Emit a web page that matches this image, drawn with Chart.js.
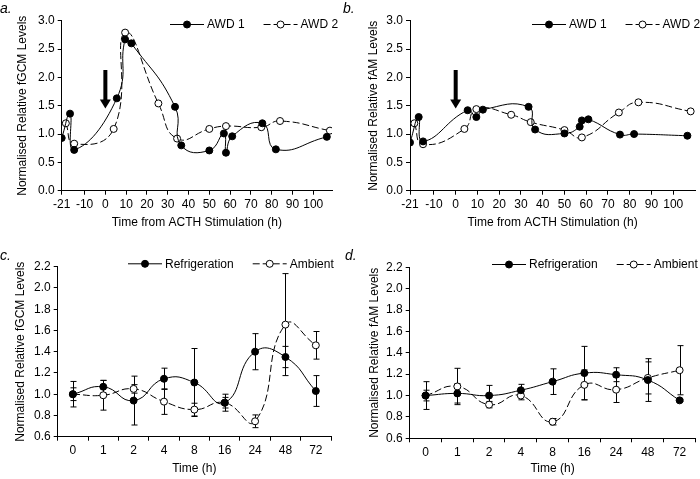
<!DOCTYPE html>
<html>
<head>
<meta charset="utf-8">
<script src="https://cdn.jsdelivr.net/npm/chart.js@4.4.1/dist/chart.umd.min.js"></script>
<style>
  html, body { margin: 0; padding: 0; background: #fff; }
  #wrap { position: relative; width: 700px; height: 479px; overflow: hidden; font-family: "Liberation Sans", Arial, sans-serif; }
  .panel { position: absolute; }
  .tag { position: absolute; font-style: italic; font-size: 14px; line-height: 14px; color: #000; }
</style>
</head>
<body>
<div id="wrap">
  <div class="panel" style="left:0;top:0"><canvas id="chartA" width="350" height="240"></canvas></div>
  <div class="panel" style="left:350px;top:0"><canvas id="chartB" width="350" height="240"></canvas></div>
  <div class="panel" style="left:0;top:240px"><canvas id="chartC" width="350" height="239"></canvas></div>
  <div class="panel" style="left:350px;top:240px"><canvas id="chartD" width="350" height="239"></canvas></div>
  <div class="tag" style="left:0;top:1px">a.</div>
  <div class="tag" style="left:343px;top:1px">b.</div>
  <div class="tag" style="left:0;top:248px">c.</div>
  <div class="tag" style="left:345px;top:248px">d.</div>
</div>
<script>
// panels a & b: time from ACTH stimulation (h)
const awd1Times = [-21, -17, -15, 5.5, 9.5, 12.5, 33.5, 36.5, 50, 57, 58, 61, 75.5, 82, 106.5];
const awd2Times = [-19, -15, 4, 9.5, 25.5, 34.5, 50, 58, 75, 84, 108];
const gcmAwd1 = [0.93, 1.36, 0.72, 1.63, 2.67, 2.60, 1.48, 0.80, 0.71, 1.01, 0.67, 0.96, 1.19, 0.73, 0.95];
const gcmAwd2 = [1.19, 0.83, 1.09, 2.79, 1.54, 0.92, 1.09, 1.14, 1.12, 1.23, 1.06];
const famAwd1 = [0.85, 1.30, 0.87, 1.42, 1.30, 1.43, 1.48, 1.08, 1.01, 1.13, 1.24, 1.26, 0.99, 1.00, 0.97];
const famAwd2 = [1.19, 0.82, 1.09, 1.44, 1.34, 1.21, 1.07, 0.94, 1.38, 1.56, 1.40];
const acthTicks = [-21, -10, 0, 10, 20, 30, 40, 50, 60, 70, 80, 90, 100];

// panels c & d: storage time (h)
const storageHours = ['0', '1', '2', '4', '8', '16', '24', '48', '72'];
const gcmRefrig = [1.00, 1.07, 0.94, 1.145, 1.11, 0.92, 1.40, 1.35, 1.03];
const gcmRefrigErr = [0.06, 0.06, 0.23, 0.10, 0.32, 0.08, 0.17, 0.10, 0.145];
const gcmAmbient = [1.00, 0.99, 1.05, 0.93, 0.855, 0.92, 0.745, 1.655, 1.46];
const gcmAmbientErr = [0.12, 0.14, 0.04, 0.12, 0.06, 0.05, 0.06, 0.48, 0.13];
const famRefrig = [1.00, 1.02, 1.00, 1.05, 1.13, 1.21, 1.195, 1.145, 0.955];
const famRefrigErr = [0.05, 0.09, 0.095, 0.055, 0.12, 0.25, 0.065, 0.20, 0.01];
const famAmbient = [1.00, 1.085, 0.915, 1.00, 0.755, 1.10, 1.055, 1.165, 1.237];
const famAmbientErr = [0.13, 0.17, 0.03, 0.04, 0.03, 0.14, 0.12, 0.15, 0.23];

const FONT = 'Liberation Sans, Arial, sans-serif';
const DASH = [7, 3];

// error bars, stimulation arrow and the inline legend
const extras = {
  id: 'extras',
  beforeDatasetsDraw(chart) {
    const ctx = chart.ctx, ys = chart.scales.y;
    chart.data.datasets.forEach((ds, i) => {
      if (!ds.errors) return;
      ctx.save();
      ctx.strokeStyle = '#000';
      ctx.lineWidth = 1;
      chart.getDatasetMeta(i).data.forEach((pt, j) => {
        const v = ds.data[j], e = ds.errors[j];
        const top = ys.getPixelForValue(v + e), bot = ys.getPixelForValue(v - e);
        const x = Math.round(pt.x) + 0.5;
        ctx.beginPath();
        ctx.moveTo(x, top); ctx.lineTo(x, bot);
        ctx.moveTo(x - 3, top); ctx.lineTo(x + 3, top);
        ctx.moveTo(x - 3, bot); ctx.lineTo(x + 3, bot);
        ctx.stroke();
      });
      ctx.restore();
    });
  },
  afterDatasetsDraw(chart, args, opts) {
    const a = opts.arrow;
    if (!a) return;
    const ctx = chart.ctx;
    const x = chart.scales.x.getPixelForValue(a.x);
    const y0 = chart.scales.y.getPixelForValue(a.from);
    const y1 = chart.scales.y.getPixelForValue(a.to);
    ctx.save();
    ctx.fillStyle = '#000';
    ctx.fillRect(x - 2, y0, 4, y1 - y0 - 8);
    ctx.beginPath();
    ctx.moveTo(x - 5.5, y1 - 9);
    ctx.lineTo(x + 5.5, y1 - 9);
    ctx.lineTo(x, y1);
    ctx.closePath();
    ctx.fill();
    ctx.restore();
  },
  afterDraw(chart, args, opts) {
    const lg = opts.legend;
    if (!lg) return;
    const ctx = chart.ctx;
    let x = lg.x;
    ctx.save();
    ctx.font = '12px ' + FONT;
    ctx.textBaseline = 'middle';
    chart.data.datasets.forEach((ds) => {
      ctx.strokeStyle = '#000';
      ctx.lineWidth = 1;
      ctx.setLineDash(ds.borderDash || []);
      ctx.beginPath();
      ctx.moveTo(x, lg.y + 0.5);
      ctx.lineTo(x + 34, lg.y + 0.5);
      ctx.stroke();
      ctx.setLineDash([]);
      ctx.beginPath();
      ctx.arc(x + 17, lg.y + 0.5, 3.5, 0, Math.PI * 2);
      ctx.fillStyle = ds.pointBackgroundColor;
      ctx.fill();
      ctx.stroke();
      ctx.fillStyle = '#000';
      ctx.fillText(ds.label, x + 37, lg.y + 1);
      x += 37 + ctx.measureText(ds.label).width + 19;
    });
    ctx.restore();
  }
};

function series(label, values, filled, times, errors) {
  return {
    label: label,
    data: times ? values.map((v, i) => ({ x: times[i], y: v })) : values,
    errors: errors,
    borderColor: '#000',
    borderWidth: 1,
    borderDash: filled ? [] : DASH,
    pointRadius: 3.5,
    pointHoverRadius: 3.5,
    pointBackgroundColor: filled ? '#000' : '#fff',
    pointBorderColor: '#000',
    pointBorderWidth: 1,
    tension: 0.5,
    fill: false
  };
}

function axisBase(title, size) {
  return {
    grid: { display: true, drawOnChartArea: false, drawTicks: true, tickLength: 4, color: '#000' },
    border: { display: true, color: '#000', width: 1 },
    ticks: { color: '#000', font: { size: 12, family: FONT }, padding: 3, maxRotation: 0, autoSkip: false },
    title: { display: true, text: title, color: '#000', font: { size: 12, family: FONT }, padding: 0 },
    afterFit: (s) => { if (s.isHorizontal()) s.height = size; else s.width = size; }
  };
}

function makeChart(id, p) {
  const x = axisBase(p.xTitle, p.xSize);
  if (p.categories) {
    x.type = 'category';
    x.offset = true;
    x.grid.offset = true;
  } else {
    x.type = 'linear';
    x.min = p.xMin;
    x.max = p.xMax;
    x.afterBuildTicks = (s) => { s.ticks = acthTicks.map((v) => ({ value: v })); };
    x.ticks.callback = (v) => String(v);
  }
  const y = axisBase(p.yTitle, p.ySize);
  y.min = p.yMin;
  y.max = p.yMax;
  y.ticks.stepSize = p.yStep;
  y.ticks.callback = (v) => Number(v).toFixed(1);

  new Chart(document.getElementById(id), {
    type: 'line',
    data: { labels: p.categories, datasets: p.datasets },
    options: {
      responsive: false,
      animation: false,
      events: [],
      layout: { padding: p.padding },
      scales: { x: x, y: y },
      plugins: {
        legend: { display: false },
        tooltip: { enabled: false },
        extras: { legend: p.legend, arrow: p.arrow }
      }
    },
    plugins: [extras]
  });
}

makeChart('chartA', {
  datasets: [series('AWD 1', gcmAwd1, true, awd1Times), series('AWD 2', gcmAwd2, false, awd2Times)],
  xMin: -21, xMax: 109, yMin: 0, yMax: 3, yStep: 0.5,
  xTitle: 'Time from ACTH Stimulation (h)', yTitle: 'Normalised Relative fGCM Levels',
  padding: { left: 15, top: 20.7, right: 18, bottom: 10 }, ySize: 46.7, xSize: 39.3,
  legend: { x: 170, y: 24 }, arrow: { x: 0, from: 2.13, to: 1.45 }
});

makeChart('chartB', {
  datasets: [series('AWD 1', famAwd1, true, awd1Times), series('AWD 2', famAwd2, false, awd2Times)],
  xMin: -21, xMax: 110, yMin: 0, yMax: 3, yStep: 0.5,
  xTitle: 'Time from ACTH Stimulation (h)', yTitle: 'Normalised Relative fAM Levels',
  padding: { left: 16, top: 20.7, right: 5, bottom: 10 }, ySize: 44, xSize: 39.3,
  legend: { x: 182, y: 24 }, arrow: { x: 0, from: 2.13, to: 1.45 }
});

makeChart('chartC', {
  categories: storageHours,
  datasets: [series('Refrigeration', gcmRefrig, true, null, gcmRefrigErr), series('Ambient', gcmAmbient, false, null, gcmAmbientErr)],
  yMin: 0.6, yMax: 2.2, yStep: 0.2,
  xTitle: 'Time (h)', yTitle: 'Normalised Relative fGCM Levels',
  padding: { left: 13, top: 26.7, right: 19, bottom: 2.8 }, ySize: 44.7, xSize: 39.5,
  legend: { x: 128, y: 23.3 }
});

makeChart('chartD', {
  categories: storageHours,
  datasets: [series('Refrigeration', famRefrig, true, null, famRefrigErr), series('Ambient', famAmbient, false, null, famAmbientErr)],
  yMin: 0.6, yMax: 2.2, yStep: 0.2,
  xTitle: 'Time (h)', yTitle: 'Normalised Relative fAM Levels',
  padding: { left: 17, top: 27.3, right: 3, bottom: 3 }, ySize: 42.7, xSize: 37.7,
  legend: { x: 142, y: 24 }
});
</script>
</body>
</html>
